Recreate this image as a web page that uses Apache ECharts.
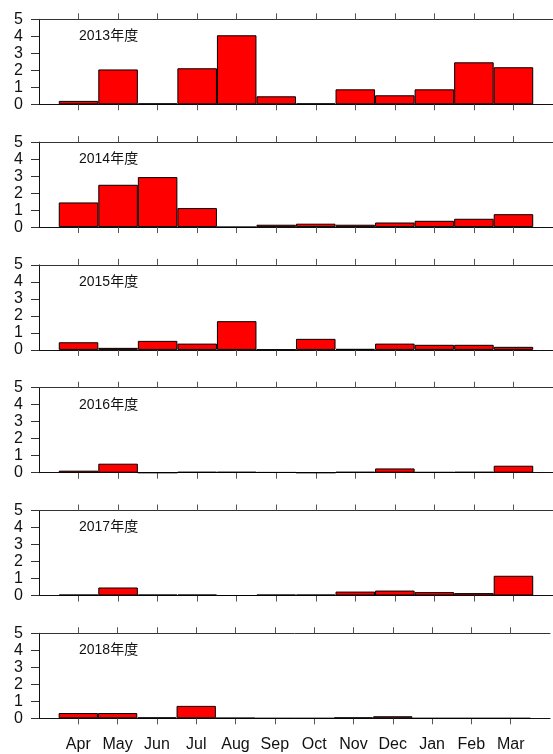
<!DOCTYPE html>
<html>
<head>
<meta charset="utf-8">
<script src="https://cdn.jsdelivr.net/npm/echarts@6/dist/echarts.min.js"></script>
<style>
html,body{margin:0;padding:0;background:#fff;}
#chart{width:553px;height:754px;}
</style>
</head>
<body>
<div id="chart"></div>
<script>
const months = ['Apr','May','Jun','Jul','Aug','Sep','Oct','Nov','Dec','Jan','Feb','Mar'];
const yearLabels = ['2013年度','2014年度','2015年度','2016年度','2017年度','2018年度'];
const y2013 = [0.2, 2.05, 0.05, 2.12, 4.06, 0.47, 0.05, 0.88, 0.53, 0.88, 2.47, 2.18];
const y2014 = [1.45, 2.49, 2.94, 1.12, 0, 0.14, 0.2, 0.14, 0.27, 0.37, 0.49, 0.76];
const y2015 = [0.45, 0.12, 0.53, 0.37, 1.69, 0.02, 0.65, 0.06, 0.37, 0.3, 0.3, 0.18];
const y2016 = [0.12, 0.53, 0, 0.05, 0.05, 0.03, 0, 0.05, 0.25, 0.04, 0.05, 0.41];
const y2017 = [0.05, 0.47, 0.05, 0.05, 0, 0.05, 0.05, 0.23, 0.29, 0.2, 0.14, 1.16];
const y2018 = [0.31, 0.31, 0.05, 0.73, 0.02, 0, 0, 0.05, 0.12, 0, 0, 0];
const yTicks = [0, 1, 2, 3, 4, 5];

const seriesValues = [y2013, y2014, y2015, y2016, y2017, y2018];
const cats = [''].concat(months, ['']);
const FONT = "'Liberation Sans', Arial, 'Noto Sans CJK JP', sans-serif";

const chart = echarts.init(document.getElementById('chart'), null, {renderer: 'canvas'});
const grids = [], xAxes = [], yAxes = [], series = [], graphics = [];
const gridLeft = 39, gridWidth = 518.7, gridH = 85;
seriesValues.forEach((vals, i) => {
  const top = 19.3 + i * 122.8;
  grids.push({left: gridLeft, top: top, width: gridWidth, height: gridH, containLabel: false});
  const isLast = i === seriesValues.length - 1;
  const tickInterval = function (idx, val) { return val !== ''; };
  xAxes.push({
    gridIndex: i, type: 'category', data: cats, boundaryGap: false, position: 'bottom',
    axisLine: {show: true, onZero: false, lineStyle: {color: '#111', width: 1}},
    axisTick: {show: true, inside: false, length: 6, interval: tickInterval, lineStyle: {color: '#555', width: 1}},
    axisLabel: {show: isLast, interval: 0, fontSize: 16, color: '#111', fontFamily: FONT, margin: 18},
    splitLine: {show: false}
  });
  xAxes.push({
    gridIndex: i, type: 'category', data: cats, boundaryGap: false, position: 'top',
    axisLine: {show: true, onZero: false, lineStyle: {color: '#333', width: 1}},
    axisTick: {show: true, inside: false, length: 6, interval: tickInterval, lineStyle: {color: '#555', width: 1}},
    axisLabel: {show: false},
    splitLine: {show: false}
  });
  yAxes.push({
    gridIndex: i, type: 'value', min: yTicks[0], max: yTicks[yTicks.length - 1], interval: 1,
    axisLine: {show: true, lineStyle: {color: '#111', width: 1}},
    axisTick: {show: true, length: 8, lineStyle: {color: '#333', width: 1}},
    axisLabel: {fontSize: 16, color: '#111', fontFamily: FONT, margin: 16},
    splitLine: {show: false}
  });
  series.push({
    type: 'bar', xAxisIndex: i * 2, yAxisIndex: i,
    data: ['-'].concat(vals, ['-']),
    barCategoryGap: '0%', barGap: '0%',
    itemStyle: {color: '#ff0000', borderColor: '#000', borderWidth: 1},
    animation: false, silent: true
  });
  graphics.push({
    type: 'text', left: 79, top: top + 10,
    style: {text: yearLabels[i], fontSize: 14, fill: '#111', fontFamily: FONT}
  });
});

chart.setOption({
  animation: false,
  backgroundColor: '#fff',
  grid: grids, xAxis: xAxes, yAxis: yAxes, series: series,
  graphic: graphics
});
</script>
</body>
</html>
